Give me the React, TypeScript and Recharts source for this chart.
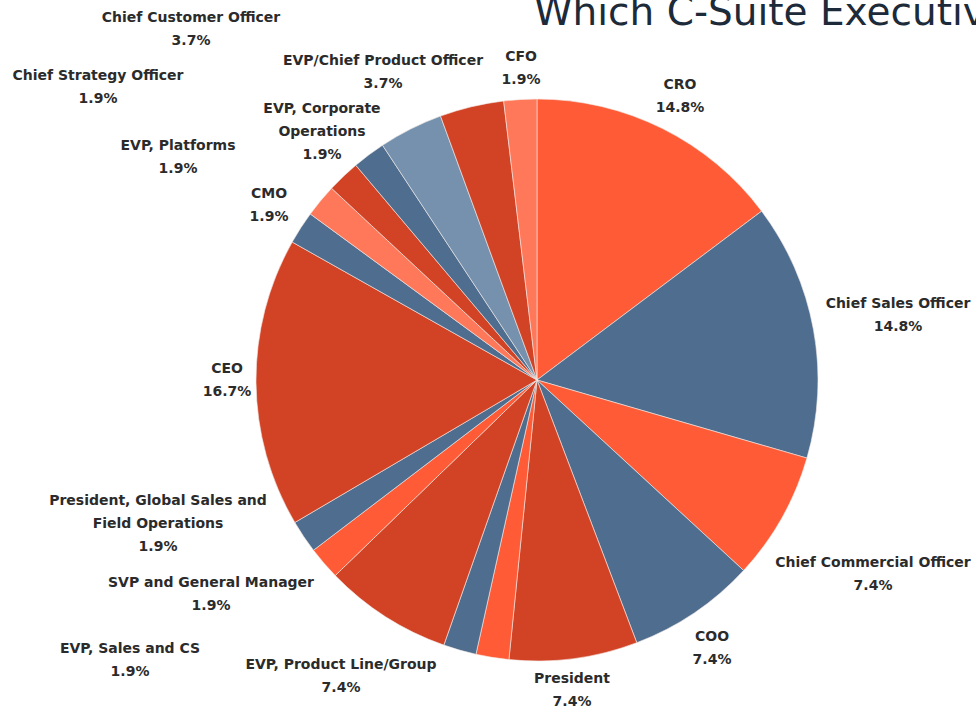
import { PieChart, Pie, Cell } from 'recharts'

// clockwise from 12 o'clock
const roles = [
  'CRO',
  'Chief Sales Officer',
  'Chief Commercial Officer',
  'COO',
  'President',
  'Other',
  'EVP, Sales and CS',
  'EVP, Product Line/Group',
  'SVP and General Manager',
  'President, Global Sales and\nField Operations',
  'CEO',
  'CMO',
  'EVP, Platforms',
  'Chief Strategy Officer',
  'EVP, Corporate\nOperations',
  'Chief Customer Officer',
  'EVP/Chief Product Officer',
  'CFO',
]
const shares = [14.8, 14.8, 7.4, 7.4, 7.4, 1.9, 1.9, 7.4, 1.9, 1.9, 16.7, 1.9, 1.9, 1.9, 1.9, 3.7, 3.7, 1.9]
const showLabel = [true, true, true, true, true, false, true, true, true, true, true, true, true, true, true, true, true, true]

const ORANGE = '#ff5b36'
const SLATE = '#4f6d8e'
const RED = '#d24326'
const LIGHT_ORANGE = '#ff7859'
const LIGHT_SLATE = '#7591ad'
const sliceColors = [
  ORANGE, SLATE, ORANGE, SLATE, RED, ORANGE, SLATE, RED, ORANGE, SLATE,
  RED, SLATE, LIGHT_ORANGE, RED, SLATE, LIGHT_SLATE, RED, LIGHT_ORANGE,
]

// label placement relative to pie centre (first line)
const labelOffsets: [number, number][] = [
  [143, -296], [361, -77], [336, 182], [175, 256], [35, 298], [0, 0],
  [-407, 268], [-196, 284], [-326, 202], [-379, 120], [-310, -12], [-268, -187],
  [-359, -235], [-439, -305], [-215, -272], [-346, -363], [-154, -320], [-16, -324],
]

const data = roles.map((name, i) => ({ name, value: shares[i] }))

const LINE = 23

function renderLabel(props: any) {
  const { cx, cy, index, value } = props
  if (!showLabel[index]) return null
  const [dx, dy] = labelOffsets[index]
  const lines = [...roles[index].split('\n'), `${value}%`]
  return (
    <text
      x={cx + dx}
      y={cy + dy}
      textAnchor="middle"
      dominantBaseline="central"
      fontSize={14}
      fontWeight="bold"
      fontFamily="'DejaVu Sans', sans-serif"
      fill="#2b2b2b"
    >
      {lines.map((l, k) => (
        <tspan key={k} x={cx + dx} dy={k === 0 ? 0 : LINE}>{l}</tspan>
      ))}
    </text>
  )
}

export default function App() {
  return (
    <div style={{ position: 'absolute', left: 0, top: 0, width: 976, height: 706, overflow: 'hidden', background: '#fff' }}>
      <PieChart width={976} height={706} margin={{ top: 0, right: 0, bottom: 0, left: 0 }}>
        <Pie
          data={data}
          dataKey="value"
          nameKey="name"
          cx={537}
          cy={380}
          outerRadius={281}
          startAngle={90}
          endAngle={-270}
          stroke="#f4ece9"
          strokeWidth={0.6}
          labelLine={false}
          label={renderLabel}
          isAnimationActive={false}
        >
          {data.map((_, i) => <Cell key={i} fill={sliceColors[i]} />)}
        </Pie>
      </PieChart>
      <svg width={976} height={60} style={{ position: 'absolute', left: 0, top: 0 }}>
        <text x={534} y={25} fontSize={39} fontFamily="'DejaVu Sans', sans-serif" fill="#1c2a3a">
          Which C-Suite Executives
        </text>
      </svg>
    </div>
  )
}
